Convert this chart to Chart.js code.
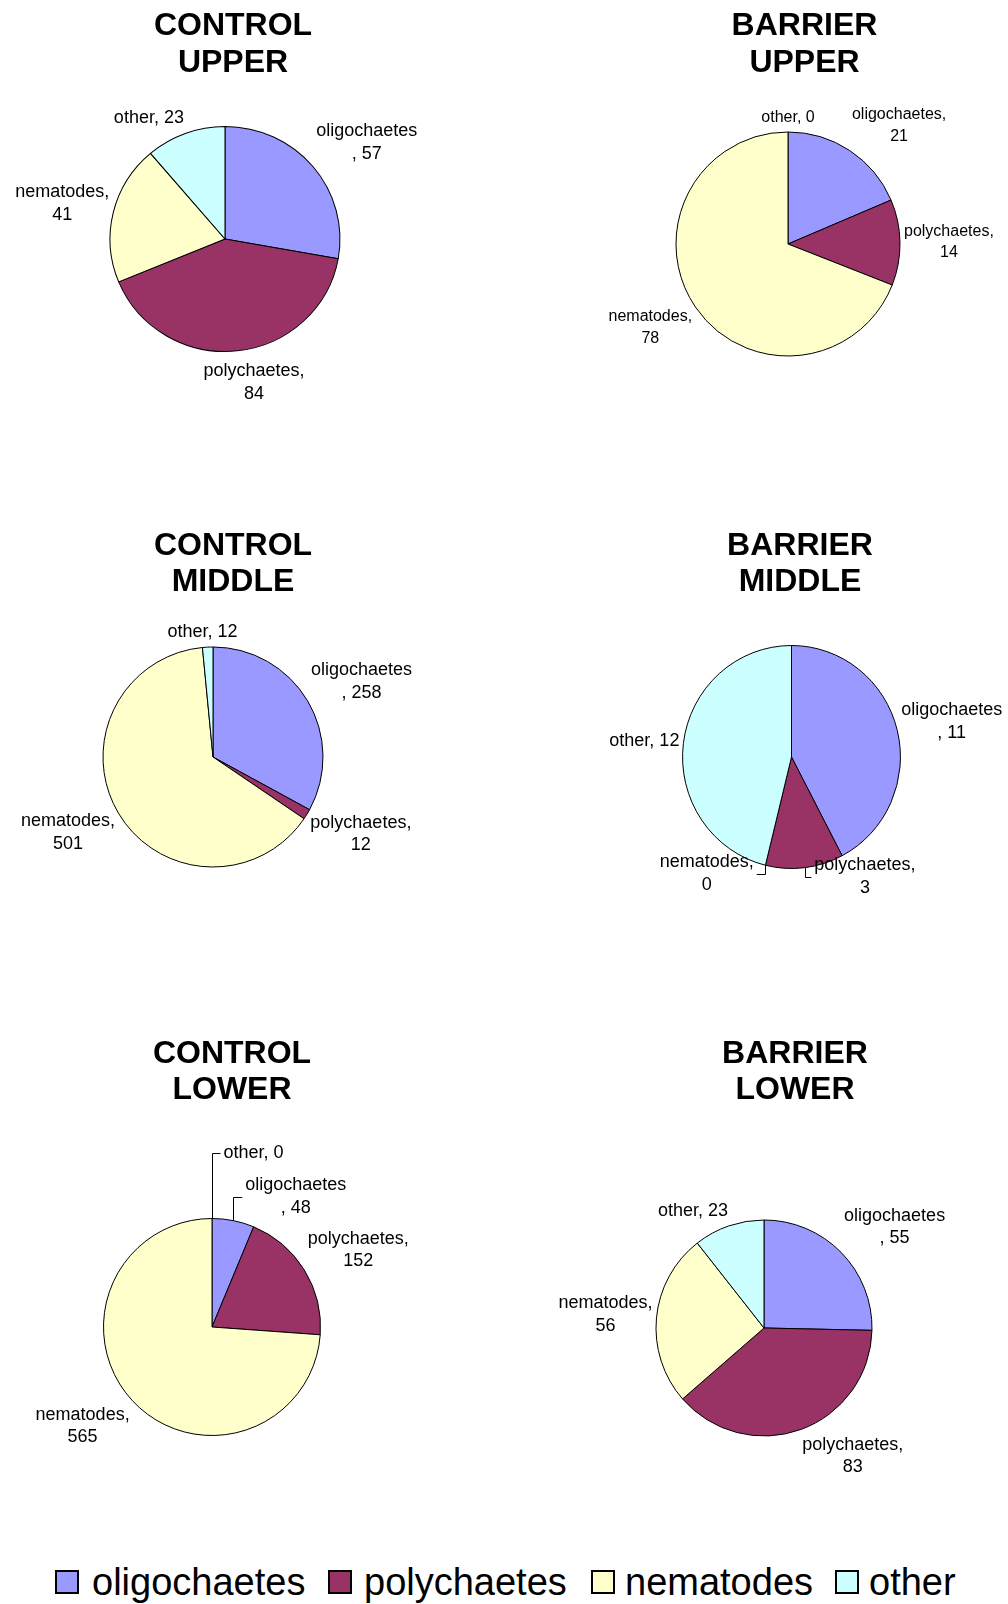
<!DOCTYPE html>
<html><head><meta charset="utf-8">
<script src="https://cdn.jsdelivr.net/npm/chart.js@4/dist/chart.umd.min.js"></script>
<style>
html,body{margin:0;padding:0;background:#fff;width:1008px;height:1604px;overflow:hidden;}
body{position:relative;}
canvas{position:absolute;}
.leg{position:absolute;font-family:"Liberation Sans",Arial,sans-serif;font-size:38px;line-height:38px;color:#000;white-space:nowrap;}
.box{position:absolute;width:20px;height:20px;border:2px solid #000;}
</style></head><body>
<script>
// ---- data ----
const categories = ['oligochaetes', 'polychaetes', 'nematodes', 'other'];
const colors = ['#9999FF', '#993366', '#FFFFCC', '#CCFFFF'];
const controlUpper  = [57, 84, 41, 23];
const barrierUpper  = [21, 14, 78, 0];
const controlMiddle = [258, 12, 501, 12];
const barrierMiddle = [11, 3, 0, 12];
const controlLower  = [48, 152, 565, 0];
const barrierLower  = [55, 83, 56, 23];
const titleUpper  = [['CONTROL', 'UPPER'], ['BARRIER', 'UPPER']];
const titleMiddle = [['CONTROL', 'MIDDLE'], ['BARRIER', 'MIDDLE']];
const titleLower  = [['CONTROL', 'LOWER'], ['BARRIER', 'LOWER']];

// ---- layout (positions / styles) ----
// adjust: [dx, dy, drawLeaderLine]
const panels = [
  {data: controlUpper,  title: titleUpper[0],  left: 0,   top: 0,    cx: 225, cy: 239, r: 112.5, sx: 1.022, tx: 233, ty: [35, 71.5], font: 18, lh: 22.5,
     adjust: {polychaetes: [0, 5, false]}},
  {data: barrierUpper,  title: titleUpper[1],  left: 504, top: 0,    cx: 284, cy: 244, r: 112,   sx: 1, tx: 300.5, ty: [35, 71.5], font: 16, lh: 21.5},
  {data: controlMiddle, title: titleMiddle[0], left: 0,   top: 500,  cx: 213, cy: 257, r: 110,   sx: 1, tx: 233, ty: [54.5, 90.5], font: 18, lh: 22.5},
  {data: barrierMiddle, title: titleMiddle[1], left: 504, top: 500,  cx: 287.5, cy: 257, r: 111.5, sx: 0.977, tx: 296, ty: [54.5, 90.5], font: 18, lh: 22.5,
     adjust: {polychaetes: [41.5, -17.5, true], nematodes: [-24, -18, true]}},
  {data: controlLower,  title: titleLower[0],  left: 0,   top: 1000, cx: 212, cy: 327, r: 108.5, sx: 1, tx: 232, ty: [63, 99], font: 18, lh: 22.5,
     adjust: {oligochaetes: [32, 2.5, true], other: [41.5, -50.5, true]}},
  {data: barrierLower,  title: titleLower[1],  left: 504, top: 1000, cx: 260, cy: 328, r: 108,   sx: 1, tx: 291, ty: [63, 99], font: 18, lh: 22.5}
];
const PW = 504, PH = 500, GAP = 4, WRAP = 104;
const clamp = v => Math.max(-1, Math.min(1, v));

function wrapLabel(ctx, name, val) {
  const full = name + ', ' + val;
  if (ctx.measureText(full).width <= WRAP) return [full];
  if (ctx.measureText(name + ',').width <= WRAP) return [name + ',', String(val)];
  return [name, ', ' + val];
}

const piePlugin = {
  id: 'pieDecor',
  beforeDatasetsDraw(chart) {
    const p = chart.options.plugins.pieDecor.panel;
    const ctx = chart.ctx;
    ctx.save();
    ctx.translate(p.cx, p.cy);
    ctx.scale(p.sx, 1);
    ctx.translate(-p.cx, -p.cy);
  },
  afterDatasetsDraw(chart) {
    chart.ctx.restore();
  },
  afterDraw(chart) {
    const p = chart.options.plugins.pieDecor.panel;
    const ctx = chart.ctx;
    ctx.save();
    // title
    ctx.fillStyle = '#000';
    ctx.textAlign = 'center';
    ctx.textBaseline = 'alphabetic';
    ctx.font = 'bold 32px "Liberation Sans", Arial, sans-serif';
    p.title.forEach((t, k) => ctx.fillText(t, p.tx, p.ty[k]));
    // data labels
    ctx.font = p.font + 'px "Liberation Sans", Arial, sans-serif';
    ctx.textBaseline = 'middle';
    ctx.strokeStyle = '#000';
    ctx.lineWidth = 1;
    const meta = chart.getDatasetMeta(0);
    meta.data.forEach((arc, i) => {
      const {x, y, startAngle, endAngle, outerRadius} =
        arc.getProps(['x', 'y', 'startAngle', 'endAngle', 'outerRadius'], true);
      const mid = (startAngle + endAngle) / 2;
      const c = Math.cos(mid), s = Math.sin(mid);
      const rx = outerRadius * p.sx;
      const lines = wrapLabel(ctx, categories[i], p.data[i]);
      const w = Math.max(...lines.map(l => ctx.measureText(l).width));
      const h = lines.length * p.lh;
      const ax = x + (rx + GAP) * c, ay = y + (outerRadius + GAP) * s;
      let bx = ax + w / 2 * clamp(3 * c);
      let by = ay + h / 2 * clamp(1.5 * s);
      const adj = p.adjust && p.adjust[categories[i]];
      if (adj) {
        bx += adj[0]; by += adj[1];
        if (adj[2]) {
          const px = x + rx * c, py = y + outerRadius * s;
          const ex = bx > px ? bx - w / 2 - 3 : bx + w / 2 + 3;
          ctx.beginPath();
          ctx.moveTo(Math.round(px) + 0.5, py);
          ctx.lineTo(Math.round(px) + 0.5, Math.round(by) + 0.5);
          ctx.lineTo(ex, Math.round(by) + 0.5);
          ctx.stroke();
        }
      }
      lines.forEach((l, k) => ctx.fillText(l, bx, by - h / 2 + p.lh * (k + 0.5)));
    });
    ctx.restore();
  }
};

panels.forEach(p => {
  const cv = document.createElement('canvas');
  cv.width = PW; cv.height = PH;
  cv.style.left = p.left + 'px'; cv.style.top = p.top + 'px';
  cv.style.width = PW + 'px'; cv.style.height = PH + 'px';
  document.body.appendChild(cv);
  const R = p.r + 2;
  new Chart(cv, {
    type: 'pie',
    data: {
      labels: categories,
      datasets: [{data: p.data, backgroundColor: colors, borderColor: '#000', borderWidth: 1}]
    },
    options: {
      responsive: false, maintainAspectRatio: false, animation: false, devicePixelRatio: 1,
      radius: p.r,
      layout: {padding: {left: p.cx - R, right: PW - p.cx - R, top: p.cy - R, bottom: PH - p.cy - R}},
      plugins: {legend: {display: false}, tooltip: {enabled: false}, title: {display: false},
                pieDecor: {panel: p}}
    },
    plugins: [piePlugin]
  });
});

// ---- shared legend ----
const legBoxX = [55, 328, 591, 835];
const legTextX = [92, 364, 625, 869];
categories.forEach((name, i) => {
  const b = document.createElement('div');
  b.className = 'box';
  b.style.left = legBoxX[i] + 'px'; b.style.top = '1570px';
  b.style.background = colors[i];
  document.body.appendChild(b);
  const t = document.createElement('div');
  t.className = 'leg';
  t.textContent = name;
  t.style.left = legTextX[i] + 'px'; t.style.top = '1563px';
  document.body.appendChild(t);
});
</script>
</body></html>
